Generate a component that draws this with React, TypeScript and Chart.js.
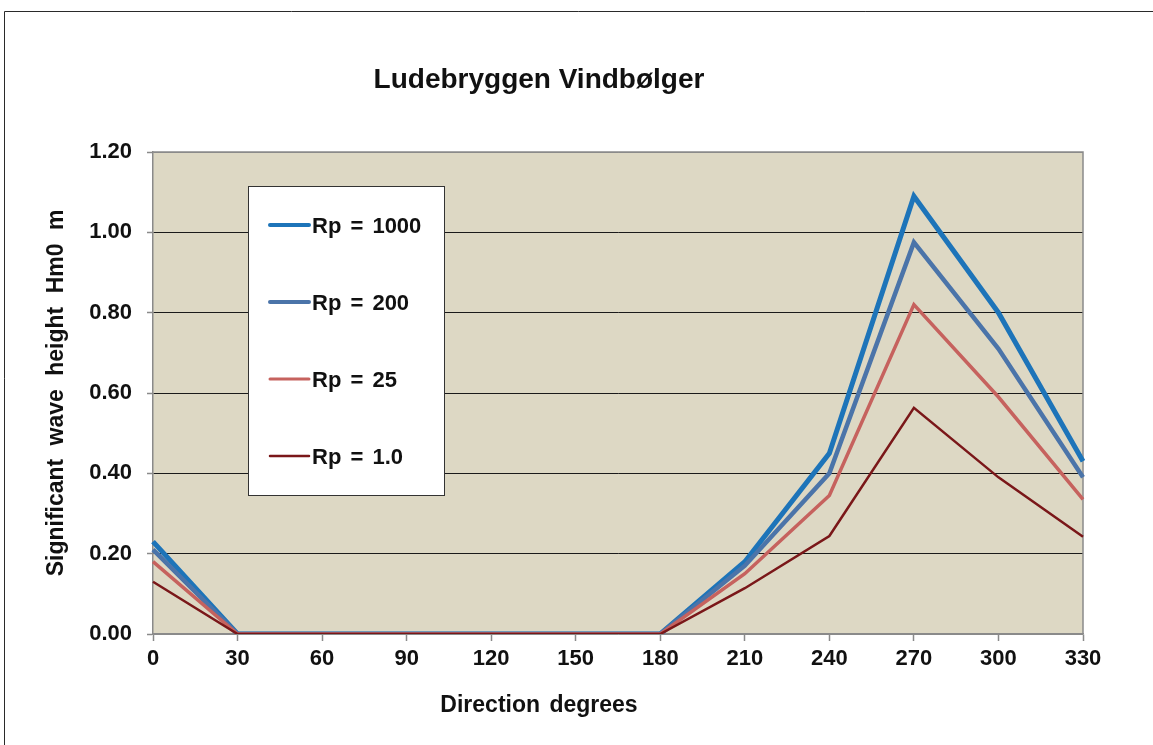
import React, { useEffect, useRef } from "react";
import { Chart, registerables } from "chart.js";

Chart.register(...registerables);

const directions = ["0", "30", "60", "90", "120", "150", "180", "210", "240", "270", "300", "330"];
const rp1000 = [0.23, 0, 0, 0, 0, 0, 0, 0.18, 0.45, 1.09, 0.8, 0.43];
const rp200 = [0.21, 0, 0, 0, 0, 0, 0, 0.17, 0.4, 0.975, 0.71, 0.39];
const rp25 = [0.18, 0, 0, 0, 0, 0, 0, 0.15, 0.345, 0.82, 0.59, 0.335];
const rp1 = [0.13, 0, 0, 0, 0, 0, 0, 0.114, 0.244, 0.563, 0.39, 0.242];
const seriesLabels = ["Rp = 1000", "Rp = 200", "Rp = 25", "Rp = 1.0"];
const seriesColors = ["#1d74b9", "#4b74a9", "#c6625e", "#7a1719"];
const seriesWidths = [5, 4.5, 3.5, 2.5];
const legendWidths = [4, 4, 3, 2.5];

const FONT = "'Liberation Sans', Arial, sans-serif";

const decorPlugin = {
  id: "decor",
  beforeDraw(chart: any) {
    const { ctx, chartArea: a } = chart;
    ctx.save();
    ctx.fillStyle = "#ffffff";
    ctx.fillRect(0, 0, chart.width, chart.height);
    ctx.fillStyle = "#ddd8c4";
    ctx.fillRect(a.left, a.top, a.right - a.left, a.bottom - a.top);
    // outer frame
    ctx.strokeStyle = "#2a2a2a";
    ctx.lineWidth = 1;
    ctx.beginPath();
    ctx.moveTo(4.5, chart.height);
    ctx.lineTo(4.5, 11.5);
    ctx.lineTo(chart.width, 11.5);
    ctx.stroke();
    ctx.restore();
  },
  beforeDatasetsDraw(chart: any) {
    const { ctx, chartArea: a } = chart;
    ctx.save();
    ctx.strokeStyle = "#8a8a8a";
    ctx.lineWidth = 1.5;
    ctx.beginPath();
    ctx.moveTo(a.left, a.top);
    ctx.lineTo(a.right, a.top);
    ctx.lineTo(a.right, a.bottom);
    ctx.stroke();
    ctx.restore();
  },
  afterDraw(chart: any) {
    const { ctx, chartArea: a } = chart;
    ctx.save();
    // title
    ctx.fillStyle = "#111111";
    ctx.textAlign = "center";
    ctx.textBaseline = "alphabetic";
    ctx.font = `bold 28px ${FONT}`;
    ctx.fillText("Ludebryggen Vindbølger", 539, 88);
    // x title
    ctx.font = `bold 23px ${FONT}`;
    (ctx as any).wordSpacing = "3px";
    ctx.fillText("Direction degrees", 539, 712);
    // y title
    ctx.save();
    ctx.translate(63, (a.top + a.bottom) / 2);
    ctx.rotate(-Math.PI / 2);
    ctx.font = `bold 23px ${FONT}`;
    (ctx as any).wordSpacing = "7px";
    ctx.fillText("Significant wave height Hm0 m", 0, 0);
    ctx.restore();
    (ctx as any).wordSpacing = "0px";
    // legend
    const bx = 248.5, by = 186.5, bw = 196, bh = 309;
    ctx.fillStyle = "#ffffff";
    ctx.fillRect(bx, by, bw, bh);
    ctx.strokeStyle = "#333333";
    ctx.lineWidth = 1;
    ctx.strokeRect(bx, by, bw, bh);
    const rows = [225, 302, 379, 456];
    ctx.textAlign = "left";
    ctx.font = `bold 22px ${FONT}`;
    seriesLabels.forEach((lab, i) => {
      ctx.strokeStyle = seriesColors[i];
      ctx.lineWidth = legendWidths[i];
      ctx.lineCap = "round";
      ctx.beginPath();
      ctx.moveTo(270, rows[i]);
      ctx.lineTo(309, rows[i]);
      ctx.stroke();
      ctx.fillStyle = "#111111";
      (ctx as any).wordSpacing = "3px";
      ctx.fillText(lab, 312, rows[i] + 8);
    });
    ctx.restore();
  },
};

export default function App() {
  const ref = useRef<HTMLCanvasElement | null>(null);
  useEffect(() => {
    if (!ref.current) return;
    const all = [rp1000, rp200, rp25, rp1];
    const chart = new Chart(ref.current, {
      type: "line",
      data: {
        labels: directions,
        datasets: all.map((d, i) => ({
          label: seriesLabels[i],
          data: d,
          borderColor: seriesColors[i],
          backgroundColor: seriesColors[i],
          borderWidth: seriesWidths[i],
          pointRadius: 0,
          tension: 0,
          fill: false,
          borderJoinStyle: "miter" as const,
          order: 4 - i,
        })),
      },
      options: {
        responsive: false,
        maintainAspectRatio: false,
        animation: false,
        layout: { padding: { top: 152, right: 70, left: 0, bottom: 0 } },
        plugins: { legend: { display: false }, title: { display: false }, tooltip: { enabled: false } },
        scales: {
          x: {
            type: "category",
            offset: false,
            afterFit: (s: any) => {
              s.height = 111;
            },
            grid: { display: true, drawOnChartArea: false, drawTicks: true, tickLength: 7, tickColor: "#8a8a8a", tickWidth: 1.5 },
            border: { color: "#8a8a8a", width: 1.5 },
            ticks: {
              color: "#111111",
              font: { family: FONT, size: 22, weight: "bold" },
              padding: 5,
              maxRotation: 0,
              autoSkip: false,
            },
          },
          y: {
            min: 0,
            max: 1.2,
            afterFit: (s: any) => {
              s.width = 153;
            },
            grid: {
              color: (c: any) => (c.tick && (c.tick.value >= 1.19 || c.tick.value === 0) ? "#8a8a8a" : "#1a1a1a"),
              lineWidth: 1,
              tickLength: 6,
              tickColor: "#8a8a8a",
              tickWidth: 1.5,
            },
            border: { color: "#8a8a8a", width: 1.5 },
            ticks: {
              stepSize: 0.2,
              color: "#111111",
              font: { family: FONT, size: 22, weight: "bold" },
              padding: 15,
              callback: (v: any) => Number(v).toFixed(2),
            },
          },
        },
      },
      plugins: [decorPlugin],
    });
    return () => chart.destroy();
  }, []);
  return (
    <div style={{ position: "fixed", left: 0, top: 0, width: 1153, height: 745, background: "#fff" }}>
      <canvas ref={ref} width={1153} height={745} style={{ display: "block" }} />
    </div>
  );
}
